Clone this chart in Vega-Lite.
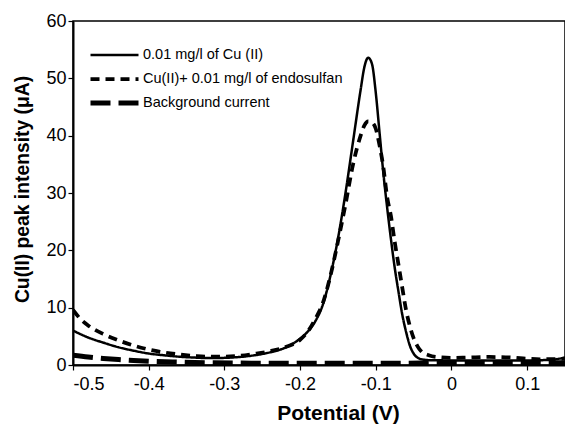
{
  "$schema": "https://vega.github.io/schema/vega-lite/v6.json",
  "width": 492,
  "height": 344,
  "autosize": {"type": "none"},
  "padding": {"left": 73, "top": 21, "right": 0, "bottom": 63},
  "background": "white",
  "config": {
    "view": {"stroke": "black", "strokeWidth": 1.5},
    "font": "Liberation Sans",
    "axis": {"grid": false, "domainColor": "black", "tickColor": "black", "labelColor": "black", "titleColor": "black", "domainWidth": 2, "tickWidth": 1.2, "tickSize": 5, "labelFont": "Liberation Sans", "titleFont": "Liberation Sans"}
  },
  "data": {
    "values": [
      {"x": -0.5, "y": 6.0, "s": "0.01 mg/l of Cu (II)"},
      {"x": -0.48, "y": 4.8, "s": "0.01 mg/l of Cu (II)"},
      {"x": -0.46, "y": 3.9, "s": "0.01 mg/l of Cu (II)"},
      {"x": -0.44, "y": 3.1, "s": "0.01 mg/l of Cu (II)"},
      {"x": -0.42, "y": 2.5, "s": "0.01 mg/l of Cu (II)"},
      {"x": -0.40, "y": 2.0, "s": "0.01 mg/l of Cu (II)"},
      {"x": -0.38, "y": 1.7, "s": "0.01 mg/l of Cu (II)"},
      {"x": -0.36, "y": 1.45, "s": "0.01 mg/l of Cu (II)"},
      {"x": -0.34, "y": 1.3, "s": "0.01 mg/l of Cu (II)"},
      {"x": -0.32, "y": 1.2, "s": "0.01 mg/l of Cu (II)"},
      {"x": -0.30, "y": 1.25, "s": "0.01 mg/l of Cu (II)"},
      {"x": -0.28, "y": 1.4, "s": "0.01 mg/l of Cu (II)"},
      {"x": -0.26, "y": 1.7, "s": "0.01 mg/l of Cu (II)"},
      {"x": -0.24, "y": 2.2, "s": "0.01 mg/l of Cu (II)"},
      {"x": -0.22, "y": 3.0, "s": "0.01 mg/l of Cu (II)"},
      {"x": -0.20, "y": 4.6, "s": "0.01 mg/l of Cu (II)"},
      {"x": -0.19, "y": 5.8, "s": "0.01 mg/l of Cu (II)"},
      {"x": -0.18, "y": 7.6, "s": "0.01 mg/l of Cu (II)"},
      {"x": -0.17, "y": 10.5, "s": "0.01 mg/l of Cu (II)"},
      {"x": -0.16, "y": 15.5, "s": "0.01 mg/l of Cu (II)"},
      {"x": -0.15, "y": 22, "s": "0.01 mg/l of Cu (II)"},
      {"x": -0.14, "y": 30, "s": "0.01 mg/l of Cu (II)"},
      {"x": -0.13, "y": 39, "s": "0.01 mg/l of Cu (II)"},
      {"x": -0.12, "y": 48, "s": "0.01 mg/l of Cu (II)"},
      {"x": -0.115, "y": 52, "s": "0.01 mg/l of Cu (II)"},
      {"x": -0.11, "y": 53.6, "s": "0.01 mg/l of Cu (II)"},
      {"x": -0.105, "y": 52.5, "s": "0.01 mg/l of Cu (II)"},
      {"x": -0.10, "y": 47.5, "s": "0.01 mg/l of Cu (II)"},
      {"x": -0.095, "y": 40.5, "s": "0.01 mg/l of Cu (II)"},
      {"x": -0.09, "y": 33.5, "s": "0.01 mg/l of Cu (II)"},
      {"x": -0.085, "y": 27.5, "s": "0.01 mg/l of Cu (II)"},
      {"x": -0.08, "y": 22, "s": "0.01 mg/l of Cu (II)"},
      {"x": -0.075, "y": 17, "s": "0.01 mg/l of Cu (II)"},
      {"x": -0.07, "y": 12.8, "s": "0.01 mg/l of Cu (II)"},
      {"x": -0.065, "y": 8.8, "s": "0.01 mg/l of Cu (II)"},
      {"x": -0.06, "y": 5.8, "s": "0.01 mg/l of Cu (II)"},
      {"x": -0.055, "y": 3.4, "s": "0.01 mg/l of Cu (II)"},
      {"x": -0.05, "y": 2.0, "s": "0.01 mg/l of Cu (II)"},
      {"x": -0.045, "y": 1.3, "s": "0.01 mg/l of Cu (II)"},
      {"x": -0.04, "y": 1.0, "s": "0.01 mg/l of Cu (II)"},
      {"x": -0.03, "y": 0.85, "s": "0.01 mg/l of Cu (II)"},
      {"x": 0.0, "y": 0.8, "s": "0.01 mg/l of Cu (II)"},
      {"x": 0.05, "y": 0.8, "s": "0.01 mg/l of Cu (II)"},
      {"x": 0.10, "y": 0.8, "s": "0.01 mg/l of Cu (II)"},
      {"x": 0.13, "y": 0.9, "s": "0.01 mg/l of Cu (II)"},
      {"x": 0.15, "y": 1.3, "s": "0.01 mg/l of Cu (II)"},

      {"x": -0.5, "y": 9.6, "s": "Cu(II)+ 0.01 mg/l of endosulfan"},
      {"x": -0.49, "y": 8.0, "s": "Cu(II)+ 0.01 mg/l of endosulfan"},
      {"x": -0.48, "y": 6.9, "s": "Cu(II)+ 0.01 mg/l of endosulfan"},
      {"x": -0.46, "y": 5.4, "s": "Cu(II)+ 0.01 mg/l of endosulfan"},
      {"x": -0.44, "y": 4.3, "s": "Cu(II)+ 0.01 mg/l of endosulfan"},
      {"x": -0.42, "y": 3.4, "s": "Cu(II)+ 0.01 mg/l of endosulfan"},
      {"x": -0.40, "y": 2.7, "s": "Cu(II)+ 0.01 mg/l of endosulfan"},
      {"x": -0.38, "y": 2.2, "s": "Cu(II)+ 0.01 mg/l of endosulfan"},
      {"x": -0.36, "y": 1.85, "s": "Cu(II)+ 0.01 mg/l of endosulfan"},
      {"x": -0.34, "y": 1.6, "s": "Cu(II)+ 0.01 mg/l of endosulfan"},
      {"x": -0.32, "y": 1.45, "s": "Cu(II)+ 0.01 mg/l of endosulfan"},
      {"x": -0.30, "y": 1.45, "s": "Cu(II)+ 0.01 mg/l of endosulfan"},
      {"x": -0.28, "y": 1.6, "s": "Cu(II)+ 0.01 mg/l of endosulfan"},
      {"x": -0.26, "y": 1.95, "s": "Cu(II)+ 0.01 mg/l of endosulfan"},
      {"x": -0.24, "y": 2.4, "s": "Cu(II)+ 0.01 mg/l of endosulfan"},
      {"x": -0.22, "y": 3.1, "s": "Cu(II)+ 0.01 mg/l of endosulfan"},
      {"x": -0.20, "y": 4.4, "s": "Cu(II)+ 0.01 mg/l of endosulfan"},
      {"x": -0.19, "y": 5.8, "s": "Cu(II)+ 0.01 mg/l of endosulfan"},
      {"x": -0.18, "y": 8.0, "s": "Cu(II)+ 0.01 mg/l of endosulfan"},
      {"x": -0.17, "y": 10.8, "s": "Cu(II)+ 0.01 mg/l of endosulfan"},
      {"x": -0.16, "y": 15.5, "s": "Cu(II)+ 0.01 mg/l of endosulfan"},
      {"x": -0.15, "y": 21.5, "s": "Cu(II)+ 0.01 mg/l of endosulfan"},
      {"x": -0.14, "y": 28, "s": "Cu(II)+ 0.01 mg/l of endosulfan"},
      {"x": -0.13, "y": 35, "s": "Cu(II)+ 0.01 mg/l of endosulfan"},
      {"x": -0.12, "y": 40, "s": "Cu(II)+ 0.01 mg/l of endosulfan"},
      {"x": -0.115, "y": 41.8, "s": "Cu(II)+ 0.01 mg/l of endosulfan"},
      {"x": -0.11, "y": 42.5, "s": "Cu(II)+ 0.01 mg/l of endosulfan"},
      {"x": -0.105, "y": 42.3, "s": "Cu(II)+ 0.01 mg/l of endosulfan"},
      {"x": -0.10, "y": 41.2, "s": "Cu(II)+ 0.01 mg/l of endosulfan"},
      {"x": -0.095, "y": 38.3, "s": "Cu(II)+ 0.01 mg/l of endosulfan"},
      {"x": -0.09, "y": 34.5, "s": "Cu(II)+ 0.01 mg/l of endosulfan"},
      {"x": -0.085, "y": 29.3, "s": "Cu(II)+ 0.01 mg/l of endosulfan"},
      {"x": -0.08, "y": 26, "s": "Cu(II)+ 0.01 mg/l of endosulfan"},
      {"x": -0.075, "y": 21.5, "s": "Cu(II)+ 0.01 mg/l of endosulfan"},
      {"x": -0.07, "y": 17.5, "s": "Cu(II)+ 0.01 mg/l of endosulfan"},
      {"x": -0.065, "y": 13.5, "s": "Cu(II)+ 0.01 mg/l of endosulfan"},
      {"x": -0.06, "y": 9.6, "s": "Cu(II)+ 0.01 mg/l of endosulfan"},
      {"x": -0.055, "y": 6.8, "s": "Cu(II)+ 0.01 mg/l of endosulfan"},
      {"x": -0.05, "y": 4.7, "s": "Cu(II)+ 0.01 mg/l of endosulfan"},
      {"x": -0.045, "y": 3.3, "s": "Cu(II)+ 0.01 mg/l of endosulfan"},
      {"x": -0.04, "y": 2.4, "s": "Cu(II)+ 0.01 mg/l of endosulfan"},
      {"x": -0.03, "y": 1.7, "s": "Cu(II)+ 0.01 mg/l of endosulfan"},
      {"x": -0.02, "y": 1.4, "s": "Cu(II)+ 0.01 mg/l of endosulfan"},
      {"x": 0.0, "y": 1.25, "s": "Cu(II)+ 0.01 mg/l of endosulfan"},
      {"x": 0.02, "y": 1.3, "s": "Cu(II)+ 0.01 mg/l of endosulfan"},
      {"x": 0.05, "y": 1.4, "s": "Cu(II)+ 0.01 mg/l of endosulfan"},
      {"x": 0.08, "y": 1.3, "s": "Cu(II)+ 0.01 mg/l of endosulfan"},
      {"x": 0.10, "y": 1.1, "s": "Cu(II)+ 0.01 mg/l of endosulfan"},
      {"x": 0.12, "y": 1.0, "s": "Cu(II)+ 0.01 mg/l of endosulfan"},
      {"x": 0.15, "y": 1.1, "s": "Cu(II)+ 0.01 mg/l of endosulfan"},

      {"x": -0.5, "y": 1.7, "s": "Background current"},
      {"x": -0.48, "y": 1.4, "s": "Background current"},
      {"x": -0.46, "y": 1.15, "s": "Background current"},
      {"x": -0.44, "y": 0.95, "s": "Background current"},
      {"x": -0.42, "y": 0.8, "s": "Background current"},
      {"x": -0.40, "y": 0.65, "s": "Background current"},
      {"x": -0.36, "y": 0.5, "s": "Background current"},
      {"x": -0.32, "y": 0.4, "s": "Background current"},
      {"x": -0.28, "y": 0.35, "s": "Background current"},
      {"x": -0.24, "y": 0.3, "s": "Background current"},
      {"x": -0.20, "y": 0.3, "s": "Background current"},
      {"x": -0.16, "y": 0.3, "s": "Background current"},
      {"x": -0.12, "y": 0.3, "s": "Background current"},
      {"x": -0.08, "y": 0.3, "s": "Background current"},
      {"x": -0.04, "y": 0.35, "s": "Background current"},
      {"x": 0.0, "y": 0.4, "s": "Background current"},
      {"x": 0.04, "y": 0.45, "s": "Background current"},
      {"x": 0.08, "y": 0.45, "s": "Background current"},
      {"x": 0.12, "y": 0.4, "s": "Background current"},
      {"x": 0.15, "y": 0.4, "s": "Background current"}
    ]
  },
  "mark": {"type": "line", "color": "black", "interpolate": "monotone", "clip": true},
  "encoding": {
    "x": {
      "field": "x", "type": "quantitative",
      "scale": {"domain": [-0.5, 0.15], "nice": false, "zero": false},
      "axis": {"values": [-0.5, -0.4, -0.3, -0.2, -0.1, 0, 0.1], "format": ".1~f", "labelExpr": "replace(datum.label, '\u2212', '-')", "labelFontSize": 18, "labelPadding": 5, "title": "Potential (V)", "titleFontSize": 21, "titleFontWeight": "bold", "titlePadding": 9, "titleX": 265}
    },
    "y": {
      "field": "y", "type": "quantitative",
      "scale": {"domain": [0, 60], "nice": false},
      "axis": {"values": [0, 10, 20, 30, 40, 50, 60], "labelFontSize": 18, "labelPadding": 2, "title": "Cu(II) peak intensity (μA)", "titleFontSize": 19.3, "titleFontWeight": "bold", "titlePadding": 13, "titleY": 168}
    },
    "strokeDash": {
      "field": "s", "type": "nominal",
      "scale": {"domain": ["0.01 mg/l of Cu (II)", "Cu(II)+ 0.01 mg/l of endosulfan", "Background current"], "range": [[1, 0], [9, 6], [20, 8]]},
      "legend": {"title": null, "orient": "none", "legendX": 15, "legendY": 22, "padding": 0, "symbolType": "stroke", "symbolSize": 2304, "symbolStrokeColor": "black", "labelFontSize": 14.5, "labelColor": "black", "labelOffset": 2, "labelLimit": 0, "clipHeight": 24, "rowPadding": 0, "labelFont": "Liberation Sans"}
    },
    "strokeWidth": {
      "field": "s", "type": "nominal",
      "scale": {"domain": ["0.01 mg/l of Cu (II)", "Cu(II)+ 0.01 mg/l of endosulfan", "Background current"], "range": [2.5, 5, 3.5]},
      "legend": {"title": null, "orient": "none", "legendX": 15, "legendY": 22, "padding": 0, "symbolType": "stroke", "symbolSize": 2304, "symbolStrokeColor": "black", "labelFontSize": 14.5, "labelColor": "black", "labelOffset": 2, "labelLimit": 0, "clipHeight": 24, "rowPadding": 0, "labelFont": "Liberation Sans"}
    },
    "order": {"field": "x", "type": "quantitative"}
  }
}
